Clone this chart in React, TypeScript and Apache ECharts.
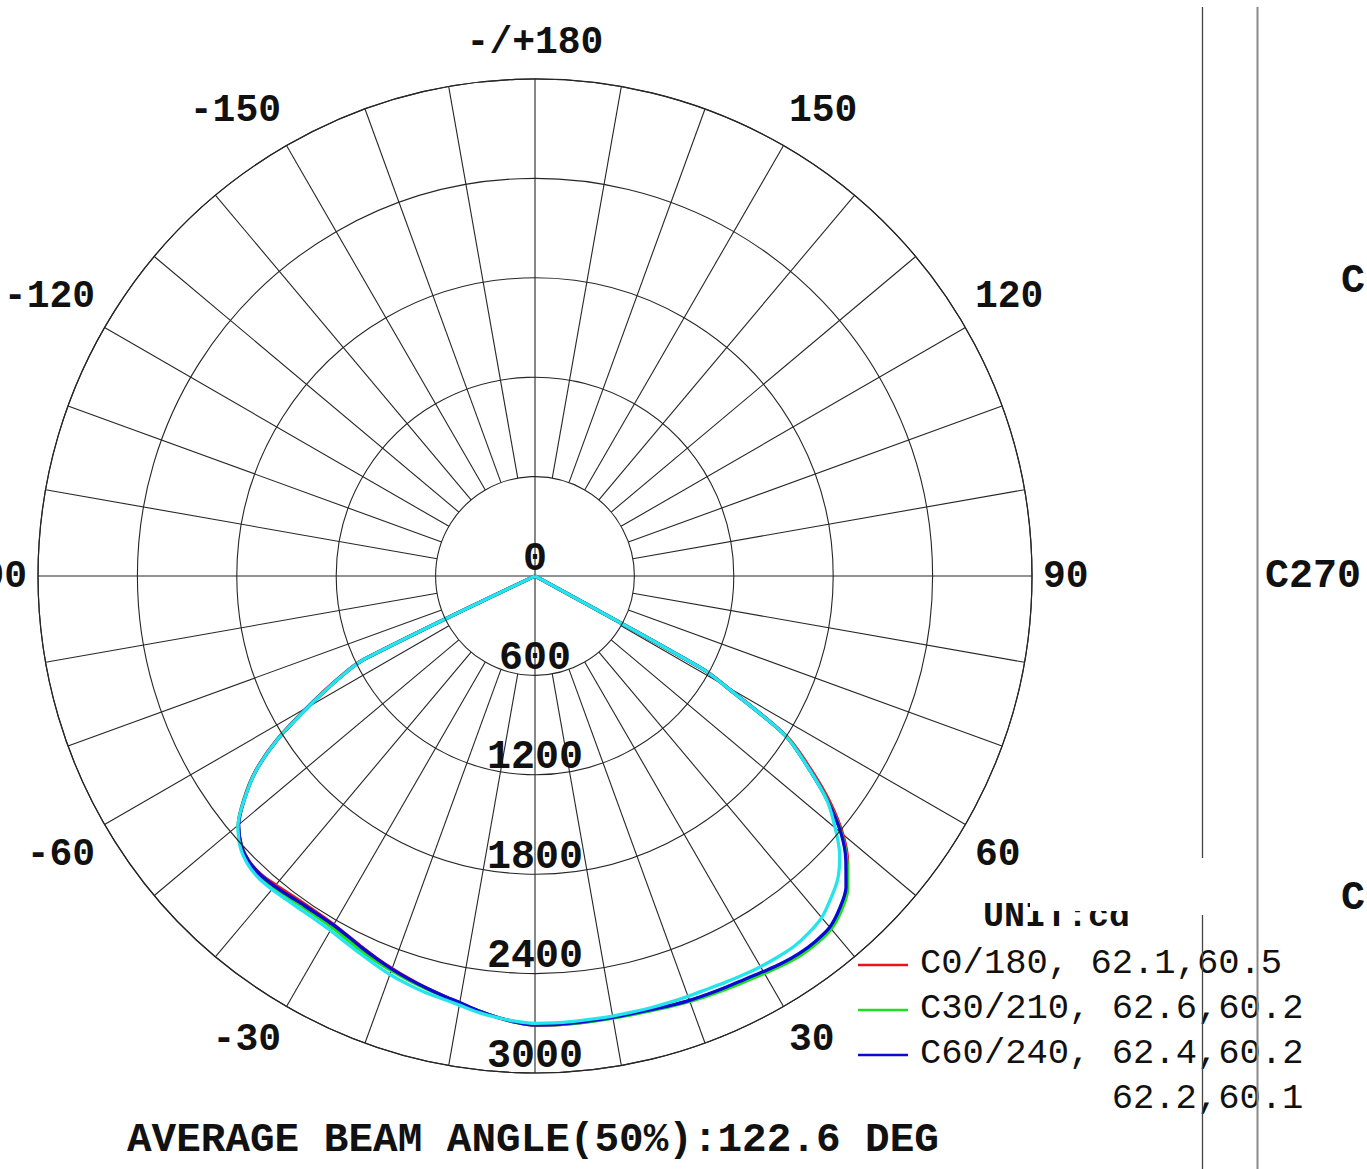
import React, { useEffect, useRef } from 'react';
import * as echarts from 'echarts';

// Gamma angles (deg): negative = left half-plane (C180..C270), positive = right half-plane
const GAMMA = [
  -90, -64, -62.5, -60, -57.5, -55, -52.5, -50, -47.5, -45, -42.5, -40, -37.5, -35, -32.5, -30,
  -27.5, -25, -22.5, -20, -17.5, -15, -12.5, -10, -7.5, -5, -2.5, 0, 2.5, 5, 7.5, 10, 12.5, 15,
  17.5, 20, 22.5, 25, 27.5, 30, 32.5, 35, 37.5, 40, 42.5, 45, 47.5, 50, 52.5, 55, 57.5, 60, 61, 90,
];

// Luminous intensity (cd) per C-plane pair
const C0_180 = [
  0, 1160, 1340, 1590, 1855, 2065, 2215, 2338, 2405, 2438, 2445, 2435, 2425, 2420, 2422, 2430,
  2448, 2472, 2498, 2522, 2546, 2570, 2592, 2617, 2646, 2673, 2696, 2712, 2712, 2710, 2708, 2707, 2708, 2712,
  2720, 2728, 2734, 2740, 2748, 2762, 2777, 2786, 2786, 2775, 2732, 2662, 2560, 2425, 2245, 2030, 1800, 1330, 1160, 0,
];
const C30_210 = [
  0, 1150, 1330, 1580, 1850, 2060, 2212, 2338, 2408, 2443, 2455, 2452, 2445, 2440, 2442, 2450,
  2468, 2492, 2515, 2535, 2555, 2575, 2595, 2618, 2645, 2672, 2695, 2708, 2710, 2710, 2710, 2710, 2712, 2716,
  2724, 2733, 2740, 2748, 2757, 2770, 2785, 2795, 2795, 2782, 2738, 2670, 2555, 2415, 2228, 2012, 1792, 1320, 1150, 0,
];
const C60_240 = [
  0, 1150, 1330, 1580, 1850, 2060, 2210, 2335, 2405, 2440, 2450, 2445, 2435, 2428, 2428, 2433,
  2450, 2475, 2500, 2525, 2548, 2570, 2592, 2615, 2645, 2672, 2695, 2710, 2710, 2708, 2706, 2705, 2706, 2710,
  2718, 2726, 2731, 2737, 2744, 2757, 2772, 2781, 2780, 2768, 2722, 2655, 2545, 2410, 2225, 2010, 1790, 1320, 1150, 0,
];
const C90_270 = [
  0, 1150, 1330, 1580, 1850, 2060, 2210, 2340, 2415, 2455, 2472, 2470, 2463, 2460, 2462, 2470,
  2488, 2510, 2535, 2560, 2580, 2598, 2612, 2630, 2655, 2675, 2690, 2700, 2700, 2698, 2697, 2697, 2697, 2698,
  2699, 2700, 2702, 2708, 2716, 2723, 2727, 2728, 2715, 2692, 2642, 2585, 2495, 2365, 2220, 2010, 1790, 1320, 1150, 0,
];

const SERIES_NAMES = ['C0/180', 'C30/210', 'C60/240', 'C90/270'];
const BEAM_ANGLES = [
  [62.1, 60.5],
  [62.6, 60.2],
  [62.4, 60.2],
  [62.2, 60.1],
];
const COLORS = ['#e8141a', '#1fe01f', '#0a0ad2', '#24e4ec'];

const RADIUS_MAX = 3000;
const RADIUS_STEP = 600;
const SPOKE_STEP = 10;
const ANGLE_LABELS: Record<number, string> = {
  0: '', 30: '30', 60: '60', 90: '90', 120: '120', 150: '150', 180: '-/+180',
  210: '-150', 240: '-120', 270: '-90', 300: '-60', 330: '-30', 360: '',
};
const TITLE = 'AVERAGE BEAM ANGLE(50%):122.6 DEG';
const UNIT = 'UNIT:cd';
const SIDE_LABELS = ['C180', 'C270', 'C0'];

const MONO = 'Liberation Mono';
const GRID = '#262626';

export default function App() {
  const ref = useRef<HTMLDivElement>(null);
  useEffect(() => {
    if (!ref.current) return;
    const chart = echarts.init(ref.current, null, { renderer: 'svg' });
    const toAxis = (g: number) => (g < 0 ? g + 360 : g);
    const all = [C0_180, C30_210, C60_240, C90_270];

    const spokes: any[] = [];
    for (let a = 0; a < 360; a += SPOKE_STEP) {
      const main = a % 90 === 0;
      spokes.push({
        type: 'line',
        coordinateSystem: 'polar',
        data: [[main ? 0 : RADIUS_STEP, a], [RADIUS_MAX, a]],
        symbol: 'none',
        silent: true,
        lineStyle: { color: GRID, width: 1.1 },
        z: 2,
      });
    }

    const curves = all.map((vals, i) => ({
      type: 'line',
      coordinateSystem: 'polar',
      name: SERIES_NAMES[i],
      data: GAMMA.map((g, k) => [vals[k], toAxis(g)]),
      symbol: 'none',
      silent: true,
      clip: false,
      smooth: 0.3,
      lineStyle: { color: COLORS[i], width: 3.3 },
      itemStyle: { color: COLORS[i] },
      z: 5 + i,
    }));

    const legendFont = 35.5;
    const adv = legendFont * 0.6;
    const legendX = 858;
    const textX = 920;
    const rowY0 = 963;
    const rowGap = 45;
    const graphics: any[] = [];
    SERIES_NAMES.forEach((n, i) => {
      const y = rowY0 + i * rowGap;
      const prefix = `${n}, `;
      const rest = `${BEAM_ANGLES[i][0].toFixed(1)},${BEAM_ANGLES[i][1].toFixed(1)}`;
      if (i < 3) {
        graphics.push({
          type: 'line',
          shape: { x1: legendX, y1: y + 2, x2: legendX + 50, y2: y + 2 },
          style: { stroke: COLORS[i], lineWidth: 2.5 },
          z: 20,
        });
        graphics.push({
          type: 'text',
          style: {
            text: prefix + rest, x: textX, y, fontFamily: MONO, fontSize: legendFont,
            fill: '#111', textAlign: 'left', verticalAlign: 'middle',
          },
          z: 20,
        });
      } else {
        graphics.push({
          type: 'text',
          style: {
            text: rest, x: textX + prefix.length * adv, y, fontFamily: MONO, fontSize: legendFont,
            fill: '#111', textAlign: 'left', verticalAlign: 'middle',
          },
          z: 20,
        });
      }
    });

    graphics.push(
      { type: 'line', shape: { x1: 1202.5, y1: 7, x2: 1202.5, y2: 858 }, style: { stroke: '#444', lineWidth: 1.3 }, z: 30 },
      { type: 'line', shape: { x1: 1202.5, y1: 915, x2: 1202.5, y2: 1169 }, style: { stroke: '#444', lineWidth: 1.3 }, z: 30 },
      { type: 'line', shape: { x1: 1257.5, y1: 7, x2: 1257.5, y2: 1169 }, style: { stroke: '#8a8a8a', lineWidth: 2 }, z: 30 },
      {
        type: 'text',
        style: { text: UNIT, x: 983, y: 917, fontFamily: MONO, fontWeight: 'bold', fontSize: 35, fill: '#111', textAlign: 'left', verticalAlign: 'middle' },
        z: 20,
      },
      { type: 'rect', shape: { x: 1030, y: 858, width: 170, height: 53 }, style: { fill: '#fff' }, z: 25 },
      {
        type: 'text',
        style: { text: SIDE_LABELS[0], x: 1341, y: 281, fontFamily: MONO, fontSize: 40, fontWeight: 'bold', fill: '#111', textAlign: 'left', verticalAlign: 'middle' },
        z: 20,
      },
      {
        type: 'text',
        style: { text: SIDE_LABELS[1], x: 1265, y: 576, fontFamily: MONO, fontSize: 40, fontWeight: 'bold', fill: '#111', textAlign: 'left', verticalAlign: 'middle' },
        z: 20,
      },
      {
        type: 'text',
        style: { text: SIDE_LABELS[2], x: 1341, y: 898, fontFamily: MONO, fontSize: 40, fontWeight: 'bold', fill: '#111', textAlign: 'left', verticalAlign: 'middle' },
        z: 20,
      },
      {
        type: 'text',
        style: { text: TITLE, x: 127, y: 1140, fontFamily: MONO, fontWeight: 'bold', fontSize: 41, fill: '#111', textAlign: 'left', verticalAlign: 'middle' },
        z: 20,
      },
    );

    chart.setOption({
      animation: false,
      backgroundColor: '#ffffff',
      polar: { center: [535, 576], radius: 497 },
      angleAxis: {
        type: 'value',
        min: 0,
        max: 360,
        interval: 30,
        startAngle: 270,
        clockwise: false,
        axisLine: { show: true, lineStyle: { color: GRID, width: 1.2 } },
        axisTick: { show: false },
        splitLine: { show: false },
        axisLabel: {
          formatter: (v: number) => ANGLE_LABELS[v] ?? '',
          margin: 11,
          padding: [5, 0, 7, 0],
          fontFamily: MONO,
          fontSize: 38,
          fontWeight: 'bold',
          color: '#111',
        },
      },
      radiusAxis: {
        type: 'value',
        min: 0,
        max: RADIUS_MAX,
        interval: RADIUS_STEP,
        axisLine: { show: false },
        axisTick: { show: false },
        splitLine: { show: true, lineStyle: { color: GRID, width: 1.1 } },
        axisLabel: {
          formatter: (v: number) => String(v),
          margin: 0,
          align: 'center',
          verticalAlign: 'bottom',
          lineHeight: 34,
          fontFamily: MONO,
          fontSize: 40,
          fontWeight: 'bold',
          color: '#111',
        },
        z: 10,
      },
      series: [...spokes, ...curves],
      graphic: graphics,
    });
    return () => chart.dispose();
  }, []);
  return (
    <div
      ref={ref}
      style={{ position: 'absolute', left: 0, top: 0, width: 1367, height: 1169, background: '#fff' }}
    />
  );
}
